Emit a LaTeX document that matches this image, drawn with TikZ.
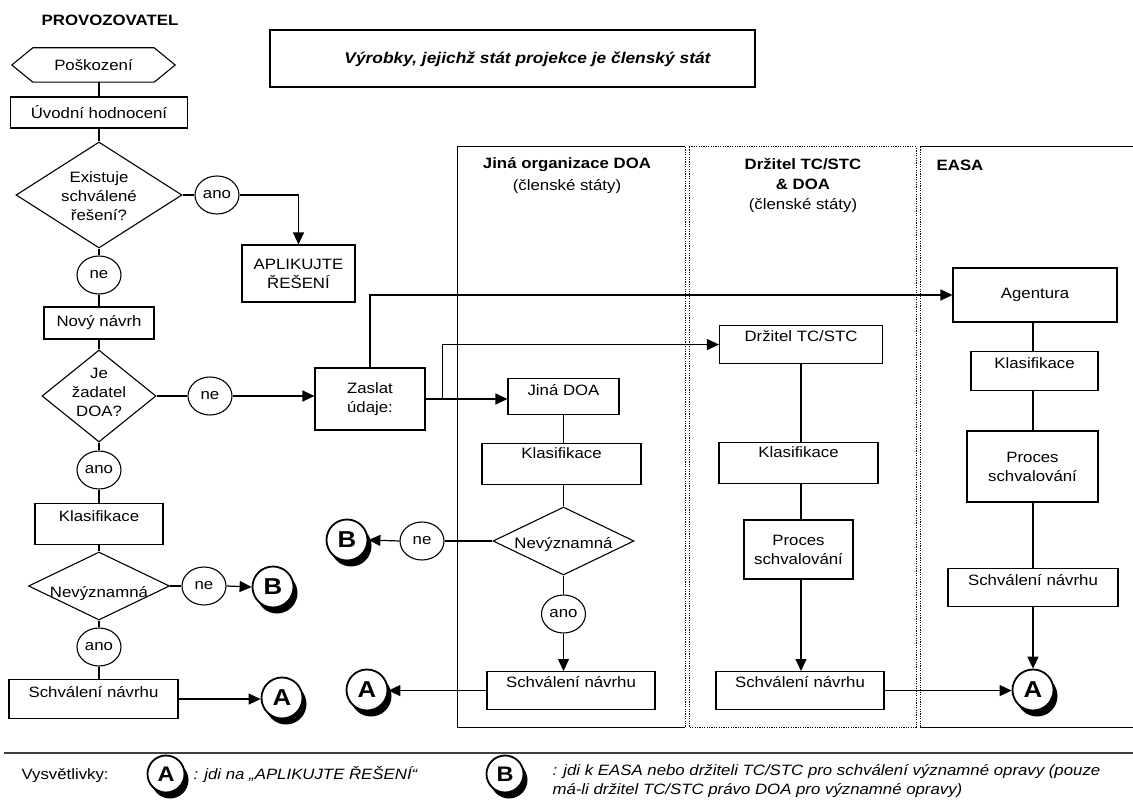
\documentclass[tikz,border=0pt]{standalone}
\usepackage{fontspec}
\setmainfont{Liberation Sans}[FakeStretch=1.12]
\usetikzlibrary{arrows.meta,shapes.geometric,shadows,calc}
% zero-size centred block of lines, used inside the decision diamonds
\newcommand{\dtext}[2][0pt]{\smash{\makebox[0pt]{\raisebox{#1}{\begin{tabular}{@{}c@{}}#2\end{tabular}}}}}

\begin{document}
\begin{tikzpicture}[x=1pt,y=-1pt,
  every node/.style={font=\fontsize{15}{19}\selectfont},
  box/.style={draw, rectangle, line width=1.1pt, inner sep=0pt, align=center},
  dia/.style={draw, diamond, line width=1.1pt, inner sep=0pt},
  lab/.style={draw, ellipse, line width=1.1pt, inner sep=0pt, minimum width=44pt, minimum height=38pt},
  goto/.style={draw, circle, fill=white, line width=1.8pt, inner sep=0pt, minimum size=41pt,
    font=\fontsize{23}{23}\selectfont\bfseries,
    general shadow={fill=black, shadow xshift=4pt, shadow yshift=-6pt}},
  ln/.style={line width=1.2pt},
  arr/.style={ln, -{Triangle[length=12pt,width=11pt]}},
  frame/.style={line width=1pt},
  dotframe/.style={line width=1pt, dash pattern=on 1.2pt off 1.2pt},
]
\useasboundingbox (0,0) rectangle (1133,802);

% ---- swim lanes ----
\draw[frame] (685,147) -- (457,147) -- (457,727) -- (685,727);
\draw[dotframe] (685,147) -- (685,727);
\draw[dotframe] (689,147) rectangle (916,727);
\draw[dotframe] (920,147) -- (920,727);
\draw[frame] (920,147) -- (1133,147);
\draw[frame] (920,727) -- (1133,727);

% ---- title ----
\node[draw, line width=2pt, minimum width=485pt, minimum height=57pt, inner sep=0pt] (title) at (512.5,59)
  {\hspace*{30pt}\fontsize{15.5}{19}\selectfont\bfseries\itshape Výrobky, jejichž stát projekce je členský stát};

% ---- operator ----
\node[font=\fontsize{15}{19}\selectfont\bfseries] (prov) at (110,20) {PROVOZOVATEL};
\node[inner sep=0pt, minimum width=163pt, minimum height=34pt] (pos) at (93.5,65) {Poškození};
\draw[line width=1.1pt] (pos.west) -- ($(pos.north west)+(21,0)$) -- ($(pos.north east)+(-21,0)$)
  -- (pos.east) -- ($(pos.south east)+(-21,0)$) -- ($(pos.south west)+(21,0)$) -- cycle;
\node[box, minimum width=177pt, minimum height=31pt] (uvod) at (99,112.5) {Úvodní hodnocení};
\node[dia, minimum width=166pt, minimum height=106pt] (exist) at (99,195) {\dtext[-6pt]{Existuje\\schválené\\řešení?}};
\node[lab] (ano1) at (217,195) {ano};
\node[box, minimum width=113pt, minimum height=57pt] (aplik) at (298.5,273.5) {APLIKUJTE\\ŘEŠENÍ};
\node[lab] (ne1) at (99,275) {ne};
\node[box, minimum width=110pt, minimum height=32pt] (novy) at (99,323) {Nový návrh};
\node[dia, minimum width=114pt, minimum height=92pt] (jez) at (99,396) {\dtext[-1.5pt]{Je\\žadatel\\DOA?}};
\node[lab] (ne2) at (210,396) {ne};
\node[box, minimum width=110pt, minimum height=62pt] (zaslat) at (370,399) {Zaslat\\údaje:};
\node[lab] (ano2) at (99,470) {ano};
\node[box, anchor=north, minimum width=128pt, text height=18.4pt, text depth=22.6pt] (klas1) at (99,503) {Klasifikace};
\node[dia, minimum width=141pt, minimum height=68pt] (nev1) at (99,586) {\dtext[-11.3pt]{Nevýznamná}};
\node[lab] (ne3) at (204,586) {ne};
\node[goto] (B1) at (273,587) {B};
\node[lab] (ano3) at (99,647) {ano};
\node[box, anchor=north, minimum width=169pt, text height=18.4pt, text depth=20.6pt] (schv1) at (93.5,679) {Schválení návrhu};
\node[goto] (A1) at (282,698) {A};

% ---- other DOA organisation ----
\node[align=center] (h1) at (567,176) {{\bfseries Jiná organizace DOA}\\[3pt](členské státy)};
\node[box, anchor=north, minimum width=111pt, text height=17.4pt, text depth=18.6pt] (jina) at (563.5,378) {Jiná DOA};
\node[box, anchor=north, minimum width=159pt, text height=15.4pt, text depth=25.6pt] (klas2) at (561.5,443) {Klasifikace};
\node[dia, minimum width=141pt, minimum height=68pt] (nev2) at (563.5,541) {\dtext[-7.3pt]{Nevýznamná}};
\node[lab] (ne4) at (422,541) {ne};
\node[goto] (B2) at (347,540) {B};
\node[lab] (ano4) at (563.5,614) {ano};
\node[box, anchor=north, minimum width=168pt, text height=16.4pt, text depth=21.6pt] (schv2) at (571,671) {Schválení návrhu};
\node[goto] (A2) at (367,690) {A};

% ---- TC/STC holder ----
\node[align=center] (h2) at (803,185) {{\bfseries Držitel TC/STC}\\[1pt]{\bfseries \& DOA}\\[1pt](členské státy)};
\node[box, anchor=north, minimum width=163pt, text height=16.4pt, text depth=21.6pt] (drz) at (801,325) {Držitel TC/STC};
\node[box, anchor=north, minimum width=159pt, text height=15.4pt, text depth=25.6pt] (klas3) at (798.5,442) {Klasifikace};
\node[box, minimum width=109pt, minimum height=59pt] (proc1) at (798.5,549.5) {Proces\\schvalování};
\node[box, anchor=north, minimum width=168pt, text height=16.4pt, text depth=21.6pt] (schv3) at (800,671) {Schválení návrhu};

% ---- EASA ----
\node[font=\fontsize{15}{19}\selectfont\bfseries] (h3) at (960,165) {EASA};
\node[box, minimum width=164pt, minimum height=54pt] (agent) at (1035,295) {Agentura};
\node[box, anchor=north, minimum width=127pt, text height=17.4pt, text depth=21.6pt] (klas4) at (1034.5,351) {Klasifikace};
\node[box, minimum width=131pt, minimum height=71pt] (proc2) at (1032.5,466.5) {Proces\\schvalování};
\node[box, anchor=north, minimum width=170pt, text height=17.4pt, text depth=20.6pt] (schv4) at (1033,568) {Schválení návrhu};
\node[goto] (A3) at (1033,690) {A};

% ---- connectors: operator ----
\draw[ln] (pos.south -| uvod.north) -- (uvod.north);
\draw[ln] (uvod.south) -- (exist.north);
\draw[ln] (exist.east) -- (ano1.west);
\draw[arr] (ano1.east) -| (aplik.north);
\draw[ln] (exist.south) -- (ne1.north);
\draw[ln] (ne1.south) -- (novy.north);
\draw[ln] (novy.south) -- (jez.north);
\draw[ln] (jez.east) -- (ne2.west);
\draw[arr] (ne2.east) -- (ne2.east -| zaslat.west);
\draw[arr] (zaslat.east) -- (zaslat.east -| jina.west);
\coordinate (br1) at ($(zaslat.east)+(17,0)$);
\draw[arr] (br1) |- (drz.west);
\draw[arr] (zaslat.north) |- (agent.west);
\draw[ln] (jez.south) -- (ano2.north);
\draw[ln] (ano2.south) -- (klas1.north);
\draw[ln] (klas1.south) -- (nev1.north);
\draw[ln] (nev1.east) -- (ne3.west);
\draw[arr] (ne3.east) -- (B1.west);
\draw[ln] (nev1.south) -- (ano3.north);
\draw[ln] (ano3.south) -- (ano3.south |- schv1.north);
\draw[arr] (schv1.east) -- (schv1.east -| A1.west);

% ---- connectors: other DOA ----
\draw[ln] (jina.south) -- (jina.south |- klas2.north);
\draw[ln] (klas2.south -| jina.south) -- (nev2.north);
\draw[ln] (nev2.west) -- (ne4.east);
\draw[arr] (ne4.west) -- (B2.east);
\draw[ln] (nev2.south) -- (ano4.north);
\draw[arr] (ano4.south) -- (ano4.south |- schv2.north);
\draw[arr] (schv2.west) -- (schv2.west -| A2.east);

% ---- connectors: TC/STC holder ----
\draw[ln] (drz.south) -- (drz.south |- klas3.north);
\draw[ln] (klas3.south -| drz.south) -- (drz.south |- proc1.north);
\draw[arr] (proc1.south -| drz.south) -- (drz.south |- schv3.north);
\draw[arr] (schv3.east) -- (schv3.east -| A3.west);

% ---- connectors: EASA ----
\draw[ln] (agent.south -| A3) -- (klas4.north -| A3);
\draw[ln] (klas4.south -| A3) -- (proc2.north -| A3);
\draw[ln] (proc2.south -| A3) -- (schv4.north -| A3);
\draw[arr] (schv4.south -| A3) -- (A3.north);

% ---- legend ----
\draw[line width=1.5pt, black!75] (4,753) -- (1133,753);
\node[anchor=west] (leg) at (18,776) {Vysvětlivky:};
\node[goto, minimum size=37pt, font=\fontsize{21}{21}\selectfont\bfseries] (LA) at (166,774) {A};
\node[anchor=west, font=\fontsize{15}{19}\selectfont\itshape] (LAt) at (190,774) {: jdi na „APLIKUJTE ŘEŠENÍ“};
\node[goto, minimum size=37pt, font=\fontsize{21}{21}\selectfont\bfseries] (LB) at (505,774) {B};
\node[anchor=west, align=left, font=\fontsize{15}{19}\selectfont\itshape] (LBt) at (549,781)
  {: jdi k EASA nebo držiteli TC/STC pro schválení významné opravy (pouze\\má-li držitel TC/STC právo DOA pro významné opravy)};
\end{tikzpicture}
\end{document}
